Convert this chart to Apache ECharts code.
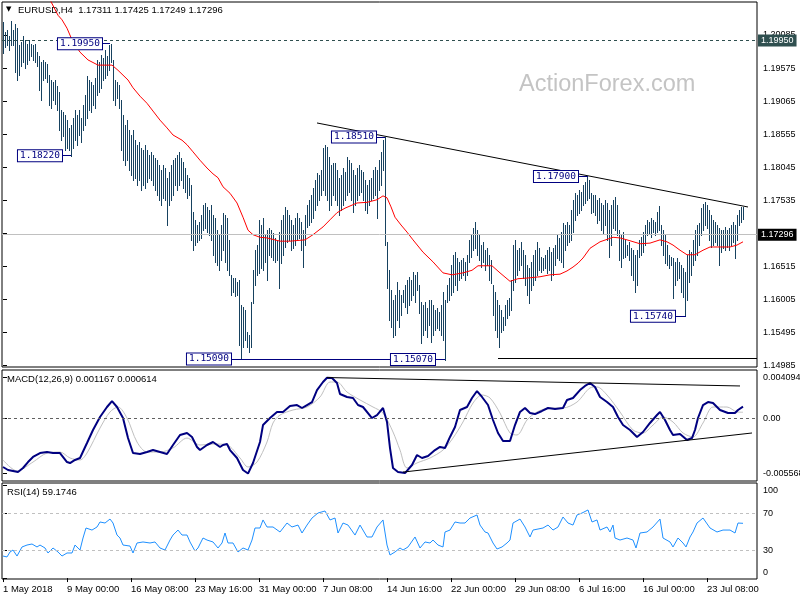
<!DOCTYPE html>
<html><head><meta charset="utf-8">
<script src="https://cdn.jsdelivr.net/npm/echarts@6/dist/echarts.min.js"></script>
<style>html,body{margin:0;padding:0;background:#fff}#c{width:800px;height:600px}</style>
</head><body><div id="c"></div>
<script>
// ---- EURUSD H4 bars (bar index = position, 4h each) ----
const highs = [
1.2029,1.2013,1.2016,1.2007,1.2030,1.2016,1.2026,1.2019,1.1993,1.1998,
1.2007,1.2001,1.1995,1.2001,1.1995,1.1993,1.1995,1.1982,1.1976,1.1967,
1.1970,1.1967,1.1964,1.1947,1.1939,1.1936,1.1939,1.1930,1.1920,1.1893,
1.1890,1.1885,1.1877,1.1865,1.1869,1.1880,1.1893,1.1885,1.1893,1.1880,
1.1900,1.1916,1.1945,1.1939,1.1936,1.1931,1.1942,1.1970,1.1967,1.1978,
1.1973,1.1985,1.1976,1.1993,1.1995,1.1970,1.1939,1.1936,1.1931,1.1908,
1.1885,1.1869,1.1877,1.1862,1.1854,1.1862,1.1846,1.1839,1.1843,1.1834,
1.1831,1.1839,1.1831,1.1823,1.1828,1.1823,1.1818,1.1815,1.1808,1.1800,
1.1808,1.1803,1.1788,1.1797,1.1808,1.1815,1.1818,1.1823,1.1828,1.1818,
1.1812,1.1803,1.1792,1.1788,1.1777,1.1735,1.1723,1.1715,1.1720,1.1730,
1.1746,1.1749,1.1743,1.1738,1.1746,1.1730,1.1726,1.1707,1.1700,1.1715,
1.1734,1.1730,1.1726,1.1692,1.1638,1.1633,1.1633,1.1627,1.1630,1.1591,
1.1588,1.1584,1.1550,1.1545,1.1596,1.1645,1.1676,1.1684,1.1723,1.1715,
1.1726,1.1700,1.1707,1.1710,1.1707,1.1703,1.1695,1.1692,1.1704,1.1723,
1.1730,1.1743,1.1738,1.1730,1.1723,1.1715,1.1726,1.1734,1.1726,1.1720,
1.1707,1.1730,1.1746,1.1754,1.1761,1.1772,1.1785,1.1795,1.1792,1.1800,
1.1834,1.1839,1.1835,1.1820,1.1808,1.1811,1.1811,1.1800,1.1788,1.1792,
1.1803,1.1797,1.1820,1.1815,1.1811,1.1800,1.1792,1.1803,1.1808,1.1800,
1.1797,1.1785,1.1777,1.1785,1.1788,1.1800,1.1805,1.1800,1.1815,1.1828,
1.1846,1.1851,1.1689,1.1645,1.1615,1.1599,1.1607,1.1627,1.1615,1.1607,
1.1615,1.1622,1.1630,1.1635,1.1630,1.1642,1.1638,1.1642,1.1622,1.1596,
1.1591,1.1596,1.1587,1.1599,1.1599,1.1591,1.1584,1.1587,1.1581,1.1591,
1.1611,1.1599,1.1622,1.1633,1.1653,1.1669,1.1673,1.1664,1.1658,1.1661,
1.1664,1.1658,1.1669,1.1692,1.1700,1.1710,1.1720,1.1707,1.1700,1.1684,
1.1688,1.1676,1.1679,1.1669,1.1661,1.1622,1.1611,1.1599,1.1591,1.1584,
1.1573,1.1591,1.1599,1.1602,1.1630,1.1684,1.1692,1.1676,1.1679,1.1689,
1.1676,1.1669,1.1653,1.1649,1.1658,1.1669,1.1676,1.1688,1.1679,1.1666,
1.1664,1.1669,1.1676,1.1681,1.1673,1.1679,1.1684,1.1700,1.1695,1.1704,
1.1718,1.1715,1.1720,1.1715,1.1738,1.1754,1.1764,1.1761,1.1769,1.1766,
1.1777,1.1781,1.1790,1.1785,1.1764,1.1761,1.1761,1.1754,1.1757,1.1749,
1.1746,1.1754,1.1749,1.1738,1.1746,1.1754,1.1758,1.1746,1.1707,1.1700,
1.1704,1.1692,1.1684,1.1689,1.1679,1.1676,1.1669,1.1676,1.1692,1.1696,
1.1704,1.1715,1.1723,1.1720,1.1726,1.1723,1.1720,1.1735,1.1744,1.1715,
1.1707,1.1700,1.1684,1.1669,1.1666,1.1664,1.1658,1.1664,1.1658,1.1653,
1.1649,1.1642,1.1669,1.1676,1.1673,1.1692,1.1707,1.1715,1.1718,1.1741,
1.1747,1.1750,1.1746,1.1738,1.1730,1.1723,1.1720,1.1715,1.1710,1.1707,
1.1707,1.1712,1.1707,1.1710,1.1715,1.1720,1.1715,1.1730,1.1738,1.1743,
1.17425];
const lows = [
1.1981,1.1990,1.1993,1.1985,1.1993,1.1993,1.1951,1.1939,1.1947,1.1961,
1.1967,1.1958,1.1964,1.1970,1.1976,1.1970,1.1967,1.1961,1.1924,1.1908,
1.1939,1.1942,1.1936,1.1900,1.1896,1.1908,1.1902,1.1893,1.1862,1.1846,
1.1852,1.1831,1.1834,1.1831,1.1822,1.1834,1.1846,1.1839,1.1854,1.1843,
1.1862,1.1869,1.1880,1.1893,1.1890,1.1900,1.1896,1.1916,1.1920,1.1927,
1.1939,1.1942,1.1947,1.1954,1.1967,1.1908,1.1900,1.1911,1.1896,1.1831,
1.1815,1.1808,1.1815,1.1800,1.1792,1.1785,1.1788,1.1777,1.1785,1.1769,
1.1777,1.1772,1.1781,1.1788,1.1785,1.1777,1.1769,1.1761,1.1754,1.1746,
1.1757,1.1754,1.1715,1.1746,1.1754,1.1761,1.1777,1.1769,1.1777,1.1785,
1.1772,1.1766,1.1757,1.1761,1.1692,1.1676,1.1684,1.1689,1.1692,1.1695,
1.1707,1.1710,1.1704,1.1700,1.1692,1.1669,1.1658,1.1653,1.1645,1.1661,
1.1676,1.1658,1.1645,1.1638,1.1607,1.1611,1.1605,1.1607,1.1530,1.1509,
1.1526,1.1537,1.1526,1.1519,1.1526,1.1594,1.1622,1.1638,1.1641,1.1649,
1.1645,1.1658,1.1630,1.1669,1.1666,1.1661,1.1658,1.1661,1.1618,1.1656,
1.1669,1.1681,1.1689,1.1692,1.1676,1.1679,1.1684,1.1692,1.1695,1.1676,
1.1650,1.1684,1.1712,1.1715,1.1720,1.1726,1.1738,1.1746,1.1754,1.1761,
1.1769,1.1761,1.1754,1.1738,1.1746,1.1761,1.1754,1.1746,1.1730,1.1738,
1.1746,1.1754,1.1761,1.1766,1.1754,1.1735,1.1746,1.1754,1.1761,1.1766,
1.1754,1.1738,1.1734,1.1746,1.1754,1.1757,1.1761,1.1726,1.1769,1.1777,
1.1800,1.1684,1.1618,1.1568,1.1557,1.1542,1.1545,1.1568,1.1557,1.1576,
1.1596,1.1588,1.1579,1.1591,1.1599,1.1607,1.1596,1.1615,1.1579,1.1533,
1.1545,1.1553,1.1542,1.1561,1.1534,1.1545,1.1553,1.1556,1.1553,1.1545,
1.1537,1.1507,1.1596,1.1599,1.1607,1.1611,1.1622,1.1615,1.1630,1.1633,
1.1638,1.1630,1.1638,1.1658,1.1666,1.1676,1.1679,1.1669,1.1661,1.1650,
1.1658,1.1645,1.1653,1.1630,1.1625,1.1576,1.1553,1.1542,1.1526,1.1550,
1.1553,1.1561,1.1571,1.1576,1.1584,1.1615,1.1627,1.1638,1.1645,1.1653,
1.1633,1.1622,1.1607,1.1594,1.1615,1.1622,1.1630,1.1638,1.1645,1.1642,
1.1645,1.1649,1.1641,1.1645,1.1630,1.1638,1.1653,1.1664,1.1661,1.1658,
1.1650,1.1676,1.1684,1.1689,1.1692,1.1704,1.1723,1.1730,1.1734,1.1738,
1.1746,1.1749,1.1754,1.1757,1.1734,1.1735,1.1730,1.1718,1.1723,1.1707,
1.1703,1.1715,1.1692,1.1666,1.1684,1.1710,1.1707,1.1700,1.1661,1.1650,
1.1664,1.1666,1.1669,1.1661,1.1638,1.1630,1.1611,1.1622,1.1666,1.1669,
1.1673,1.1684,1.1700,1.1703,1.1696,1.1704,1.1700,1.1704,1.1707,1.1684,
1.1669,1.1656,1.1653,1.1649,1.1653,1.1602,1.1622,1.1630,1.1633,1.1611,
1.1604,1.1574,1.1599,1.1627,1.1638,1.1653,1.1661,1.1669,1.1684,1.1700,
1.1707,1.1715,1.1710,1.1692,1.1681,1.1684,1.1688,1.1684,1.1653,1.1673,
1.1679,1.1676,1.1681,1.1676,1.1684,1.1689,1.1664,1.1692,1.1715,1.1720,
1.17249];

// ---- moving average (red), read at bar positions ----
const maIdx = [20,23.5,27.5,29.5,32,34.5,38.5,42.5,47.5,54.5,57.5,62.5,65,68.5,72,75,78.5,82,85,89.5,92,95,98.5,102,105,107.5,110,113.5,117,120,122.5,125,128.5,132,138.5,143.5,151,155,160,163.5,167,171,177,182,187,190,192,194,196,199,202,205,210,215,220,224.5,230,234.5,237.5,244.5,248.5,253.5,257.5,262,268.5,273.5,278.5,282,285,287.5,290,293.5,298.5,305,308.5,312,318.5,323.5,328.5,332,335,338.5,342,346,350,353.5,363.5,367,370];
const maVal = [1.2083,1.2063,1.2039,1.2032,1.2019,1.2001,1.1982,1.1970,1.1962,1.1962,1.1954,1.1939,1.1927,1.1914,1.1903,1.1891,1.1877,1.1865,1.1854,1.1846,1.1839,1.1828,1.1815,1.1803,1.1794,1.1788,1.1774,1.1764,1.1749,1.1727,1.1707,1.1700,1.1696,1.1695,1.1690,1.1690,1.1692,1.1700,1.1712,1.1723,1.1734,1.1741,1.1749,1.1750,1.1754,1.1760,1.1757,1.1743,1.1727,1.1715,1.1704,1.1692,1.1673,1.1658,1.1641,1.1638,1.1641,1.1645,1.1652,1.1652,1.1641,1.1628,1.1632,1.1633,1.1635,1.1638,1.1639,1.1644,1.1650,1.1656,1.1664,1.1679,1.1689,1.1696,1.1695,1.1692,1.1686,1.1687,1.1692,1.1689,1.1684,1.1676,1.1669,1.1669,1.1676,1.1681,1.1681,1.1684,1.1689];

// ---- MACD(12,26,9) ----
const macdIdx = [0,2.5,5,7.5,10,12.5,15,18.5,22,25,28.5,32,33.5,36,38.5,42,45,48.5,52,54.5,57,60,62.5,65,68.5,72,75,78.5,82,85,88.5,92,94.5,97,98.5,102,105,108.5,110,112,113.5,117,120,122.5,125,128.5,130,133.5,137,140,143.5,147,149.5,152,154.5,157,160,162,164.5,167,168.5,172,175,177.5,180,184.5,187,190,192,193.5,195,197.5,201,204.5,207,209.5,212.5,216,218.5,221,223.5,226,228.5,232,234.5,237,239.5,242.5,245,247.5,250,253.5,256,258.5,261,263.5,266,269.5,272.5,276,280,282,285,288.5,291,293.5,296,298.5,302,305,307.5,310,313.5,317,320,323.5,327,328.5,331,333.5,335,338.5,342,344.5,346,347.5,350,352.5,355,358.5,362.5,366,367.5,370];
const macdVal = [-0.00491,-0.00521,-0.00531,-0.00541,-0.00501,-0.00441,-0.00390,-0.00350,-0.00340,-0.00350,-0.00350,-0.00441,-0.00451,-0.00420,-0.00400,-0.00249,-0.00118,0.00013,0.00114,0.00174,0.00114,0.00003,-0.00199,-0.00350,-0.00360,-0.00340,-0.00320,-0.00340,-0.00360,-0.00269,-0.00168,-0.00148,-0.00188,-0.00289,-0.00320,-0.00269,-0.00239,-0.00289,-0.00269,-0.00259,-0.00320,-0.00400,-0.00521,-0.00557,-0.00451,-0.00239,-0.00068,0.00003,0.00064,0.00064,0.00124,0.00134,0.00104,0.00134,0.00164,0.00285,0.00366,0.00409,0.00406,0.00356,0.00245,0.00215,0.00205,0.00134,0.00114,0.00003,0.00033,0.00104,-0.00037,-0.00300,-0.00501,-0.00541,-0.00552,-0.00471,-0.00370,-0.00400,-0.00380,-0.00320,-0.00289,-0.00299,-0.00188,-0.00088,0.00084,0.00114,0.00205,0.00275,0.00215,0.00134,-0.00017,-0.00148,-0.00229,-0.00229,-0.00068,0.00064,0.00104,0.00053,0.00043,0.00074,0.00104,0.00094,0.00104,0.00185,0.00205,0.00285,0.00326,0.00356,0.00316,0.00215,0.00164,0.00114,0.00013,-0.00068,-0.00118,-0.00189,-0.00138,-0.00047,0.00033,0.00064,-0.00017,-0.00118,-0.00168,-0.00158,-0.00219,-0.00199,-0.00118,0.00003,0.00134,0.00164,0.00154,0.00084,0.00053,0.00053,0.00084,0.00117];
const sigIdx = [0,7,15,22,28.5,33.5,38.5,42,48.5,53.5,57.5,62,67,72,78.5,85,92,98.5,105,112,118.5,122.5,127,132,135,138.5,145,152,158.5,163.5,167,172,178.5,185,190,195,198.5,202,207,213.5,220,225,230,235,239.5,243.5,248.5,253.5,257,262,267,273.5,280,287,293.5,297,302,308.5,315,320,325,330,335,340,345,350,355,362,367,370];
const sigVal = [-0.00420,-0.00531,-0.00441,-0.00350,-0.00340,-0.00400,-0.00420,-0.00350,-0.00098,0.00064,0.00114,0.00003,-0.00239,-0.00340,-0.00340,-0.00299,-0.00199,-0.00269,-0.00259,-0.00269,-0.00400,-0.00491,-0.00441,-0.00239,-0.00047,0.00033,0.00084,0.00114,0.00215,0.00366,0.00366,0.00265,0.00185,0.00114,0.00053,-0.00138,-0.00320,-0.00501,-0.00450,-0.00400,-0.00320,-0.00199,-0.00037,0.00154,0.00235,0.00205,0.00053,-0.00148,-0.00168,-0.00017,0.00064,0.00104,0.00104,0.00164,0.00306,0.00316,0.00235,0.00064,-0.00118,-0.00148,-0.00068,0.00013,-0.00037,-0.00148,-0.00188,-0.00047,0.00114,0.00114,0.00064,0.00061];

// ---- RSI(14) ----
const rsiIdx = [0,2,3.5,5,7,9.5,12,14.5,17,18.5,21,22.5,25,27.5,29.5,32,34.5,36,38.5,40,41.5,44.5,47,48.5,51,53.5,55,57,58.5,60,63.5,65,67,70,73.5,76,78.5,81,83.5,85,87.5,89.5,92,93.5,96,97.5,100,102,105,107.5,109.5,111,112.5,115,117.5,120,122.5,124.5,126,128.5,130,132,135,138.5,142,144.5,147.5,149.5,152,154.5,157.5,161,163.5,166,167.5,170,172.5,176,178.5,182,184.5,187,190,192,193.5,196,198.5,200,202.5,206,208.5,211,213.5,215,217.5,220,221,223.5,226,228.5,231,233.5,237,238.5,241,242.5,245,247,249.5,252,253.5,255,258.5,261,263.5,265,267.5,270,272.5,275,277.5,280,282.5,285,287,289.5,292.5,294.5,297,298.5,302,303.5,305,306,308.5,312,315,316.5,318.5,322,325,328.5,330,333.5,335,337.5,340,341.5,343.5,345,347,350,353.5,357,360,363.5,366,367.5,370];
const rsiVal = [23.8,22.8,28.2,30.3,23.8,33.6,35.7,36.8,33.6,35.7,32.5,27.1,32.5,28.2,23.8,27.1,27.1,35.7,30.3,43.3,54.1,51.9,55.2,60.6,59.5,63.8,59.5,46.5,43.3,35.7,34.6,27.1,37.9,39.0,37.9,39.0,32.5,30.3,41.1,46.5,51.9,46.5,46.5,39.0,29.2,32.5,43.3,41.1,39.0,32.5,37.9,48.7,37.9,37.9,28.2,32.5,30.3,41.1,54.1,54.1,62.8,55.2,55.2,49.8,59.5,55.2,57.3,48.7,57.3,64.9,70.3,72.5,62.8,64.9,48.7,59.5,57.3,46.5,57.3,44.4,44.4,55.2,62.8,35.7,24.9,28.2,32.5,30.3,33.6,44.4,32.5,39.0,37.9,41.1,35.7,33.6,49.8,51.9,60.6,59.5,59.5,64.9,68.2,57.3,49.8,48.7,37.9,31.4,33.6,37.9,41.1,59.5,63.8,55.2,44.4,51.9,53.0,54.1,57.3,51.9,55.2,66.0,59.5,57.3,68.2,70.3,73.6,60.6,62.8,51.9,55.2,49.8,57.3,43.3,41.1,43.3,41.1,32.5,48.7,49.8,55.2,63.8,43.3,39.0,33.6,43.3,37.9,33.6,44.4,49.8,59.5,64.9,54.1,49.8,51.9,51.9,48.7,59.5,59.17];

// ---- axis ticks / labels ----
const priceTicks = [1.14985,1.15495,1.16005,1.16515,1.17025,1.17535,1.18045,1.18555,1.19065,1.19575,1.20085];
const macdTicks = [-0.005568,0,0.004094];
const rsiTicks = [0,30,70,100];
const dateTicks = [0,32,64,96,128,160,192,224,256,288,320,352];
const dateLabels = ['1 May 2018','9 May 00:00','16 May 08:00','23 May 16:00','31 May 00:00','7 Jun 08:00','14 Jun 16:00','22 Jun 00:00','29 Jun 08:00','6 Jul 16:00','16 Jul 00:00','23 Jul 08:00'];

// ---- annotations (bar index, price) ----
const lastPrice = 1.17296;
const resistPrice = 1.19950;
const swingLabels = [ // text, price, fromIdx, toIdx
  ['1.19950', 1.1995, 49.5, 53.5],
  ['1.18220', 1.1822, 29.5, 34],
  ['1.18510', 1.1851, 186.5, 191],
  ['1.17900', 1.1790, 287.5, 292.5],
  ['1.15090', 1.1508, 114, 195],
  ['1.15070', 1.1507, 216, 221],
  ['1.15740', 1.1574, 336, 341.5]
];
const trendMain = [[157, 1.18726], [372.5, 1.17428]];
const supportRight = [[247.5, 1.1509], [377, 1.1509]];
const macdUpper = [[162, 0.00411], [368.5, 0.00326]];
const macdLower = [[200, -0.00542], [374.5, -0.00148]];

const FONT = '"Liberation Sans", Arial, sans-serif';
const MONO = '"DejaVu Sans Mono", "Liberation Mono", monospace';
const BAR = '#174260';
const X0 = -0.5, X1 = 377;

const zip = (a, b) => a.map((v, i) => [v, b[i]]);
const seg = (p, extra) => [Object.assign({coord: p[0]}, extra || {}), {coord: p[1]}];

const boxLabel = (t) => ({
  show: true, position: 'start', distance: 0, formatter: t,
  color: '#000080', backgroundColor: '#fff', borderColor: '#000080', borderWidth: 1,
  padding: [1, 2, 0, 2], fontFamily: MONO, fontSize: 9.5
});

const mainMarks = [
  {yAxis: resistPrice, lineStyle: {color: '#2F4F4F', type: [3, 3], width: 1},
   label: {show: true, position: 'end', distance: 1, formatter: resistPrice.toFixed(5), color: '#fff',
           backgroundColor: '#2F4F4F', padding: [2, 3, 1, 3], fontFamily: FONT, fontSize: 9}},
  {yAxis: lastPrice, lineStyle: {color: '#C0C0C0', type: 'solid', width: 1},
   label: {show: true, position: 'end', distance: 1, formatter: lastPrice.toFixed(5), color: '#fff',
           backgroundColor: '#000', padding: [2, 3, 1, 3], fontFamily: FONT, fontSize: 9}},
  seg(trendMain, {lineStyle: {color: '#000', width: 1, type: 'solid'}, label: {show: false}}),
  seg(supportRight, {lineStyle: {color: '#000', width: 1, type: 'solid'}, label: {show: false}})
];
swingLabels.forEach(s => {
  mainMarks.push(seg([[s[2], s[1]], [s[3], s[1]]], {lineStyle: {color: '#000080', width: 1, type: 'solid'}, label: boxLabel(s[0])}));
});

const hiddenX = (g) => ({type: 'value', gridIndex: g, min: X0, max: X1, show: false});
const yCommon = {position: 'right', splitLine: {show: false}, axisLine: {show: false},
  axisTick: {show: true, length: 4, lineStyle: {color: '#000'}}};
const gridBase = {left: 2, width: 755, show: true, borderColor: '#000', borderWidth: 1,
  containLabel: false, outerBoundsMode: 'none'};

const option = {
  animation: false,
  backgroundColor: '#fff',
  grid: [
    Object.assign({}, gridBase, {top: 2, height: 365}),
    Object.assign({}, gridBase, {top: 370, height: 111}),
    Object.assign({}, gridBase, {top: 483, height: 96})
  ],
  xAxis: [hiddenX(0), hiddenX(1), {
    type: 'value', gridIndex: 2, min: X0, max: X1,
    axisLine: {show: false}, splitLine: {show: false},
    axisTick: {show: true, customValues: dateTicks, length: 4, lineStyle: {color: '#000'}},
    axisLabel: {customValues: dateTicks, formatter: v => dateLabels[dateTicks.indexOf(v)],
      align: 'left', margin: 5, fontSize: 9.5, color: '#000', fontFamily: FONT}
  }],
  yAxis: [
    Object.assign({}, yCommon, {type: 'value', gridIndex: 0, min: 1.14956, max: 1.20595,
      axisTick: Object.assign({}, yCommon.axisTick, {customValues: priceTicks}),
      axisLabel: {customValues: priceTicks, formatter: v => v.toFixed(5), fontSize: 9, margin: 6, color: '#000', fontFamily: FONT}}),
    Object.assign({}, yCommon, {type: 'value', gridIndex: 1, min: -0.00632, max: 0.00487,
      axisTick: Object.assign({}, yCommon.axisTick, {customValues: macdTicks}),
      axisLabel: {customValues: macdTicks, formatter: v => v === 0 ? '0.00' : v.toFixed(6), fontSize: 9, margin: 6, color: '#000', fontFamily: FONT}}),
    Object.assign({}, yCommon, {type: 'value', gridIndex: 2, min: -1.02, max: 102.76,
      axisTick: Object.assign({}, yCommon.axisTick, {customValues: rsiTicks}),
      axisLabel: {customValues: rsiTicks,
        formatter: v => v === 100 ? '{t|100}' : (v === 0 ? '{b|0}' : String(v)),
        rich: {t: {padding: [9, 0, 0, 0], fontSize: 9, color: '#000', fontFamily: FONT},
               b: {padding: [0, 0, 12, 0], fontSize: 9, color: '#000', fontFamily: FONT}},
        fontSize: 9, margin: 6, color: '#000', fontFamily: FONT}})
  ],
  series: [
    {
      type: 'custom', xAxisIndex: 0, yAxisIndex: 0, clip: true, silent: true,
      data: highs.map((h, i) => [i, h, lows[i]]),
      encode: {x: 0, y: [1, 2]},
      renderItem: function (params, api) {
        const i = api.value(0);
        const a = api.coord([i, api.value(1)]);
        const b = api.coord([i, api.value(2)]);
        const x = Math.round(a[0]) + 0.5;
        return {type: 'line', shape: {x1: x, y1: Math.round(a[1]), x2: x, y2: Math.round(b[1]) + 1},
                style: {stroke: BAR, lineWidth: 1}};
      }
    },
    {
      type: 'line', xAxisIndex: 0, yAxisIndex: 0, data: zip(maIdx, maVal), showSymbol: false, clip: true,
      lineStyle: {color: '#FF0000', width: 1}, itemStyle: {color: '#FF0000'}, silent: true, z: 3,
      markLine: {silent: true, symbol: ['none', 'none'], animation: false, data: mainMarks}
    },
    {
      type: 'line', xAxisIndex: 1, yAxisIndex: 1, data: zip(sigIdx, sigVal), showSymbol: false, smooth: 0.3,
      lineStyle: {color: '#C0C0C0', width: 1}, silent: true,
      markLine: {silent: true, symbol: ['none', 'none'], animation: false, label: {show: false},
        data: [
          {yAxis: 0, lineStyle: {color: '#606060', type: [3, 3], width: 1}},
          seg(macdUpper, {lineStyle: {color: '#000', type: 'solid', width: 1}}),
          seg(macdLower, {lineStyle: {color: '#000', type: 'solid', width: 1}})
        ]}
    },
    {
      type: 'line', xAxisIndex: 1, yAxisIndex: 1, data: zip(macdIdx, macdVal), showSymbol: false,
      lineStyle: {color: '#000080', width: 2}, silent: true, z: 4
    },
    {
      type: 'line', xAxisIndex: 2, yAxisIndex: 2, data: zip(rsiIdx, rsiVal), showSymbol: false,
      lineStyle: {color: '#1E90FF', width: 1}, silent: true,
      markLine: {silent: true, symbol: ['none', 'none'], animation: false, label: {show: false},
        data: [
          {yAxis: 70, lineStyle: {color: '#C0C0C0', type: [3, 3], width: 1}},
          {yAxis: 30, lineStyle: {color: '#C0C0C0', type: [3, 3], width: 1}}
        ]}
    }
  ],
  graphic: [
    {type: 'text', left: 6, top: 6, style: {text: '▼', font: '7px "DejaVu Sans"', fill: '#000'}},
    {type: 'text', left: 18, top: 5, style: {text: 'EURUSD,H4  1.17311 1.17425 1.17249 1.17296', font: '9.5px ' + FONT, fill: '#000'}},
    {type: 'text', left: 519, top: 73, style: {text: 'ActionForex.com', font: '23.5px ' + FONT, fill: '#C4C4C4'}},
    {type: 'text', left: 7, top: 374, style: {text: 'MACD(12,26,9) 0.001167 0.000614', font: '9.5px ' + FONT, fill: '#000'}},
    {type: 'text', left: 7, top: 487, style: {text: 'RSI(14) 59.1746', font: '9.5px ' + FONT, fill: '#000'}}
  ]
};
const chart = echarts.init(document.getElementById('c'), null, {renderer: 'canvas'});
chart.setOption(option);
</script>
</body></html>
